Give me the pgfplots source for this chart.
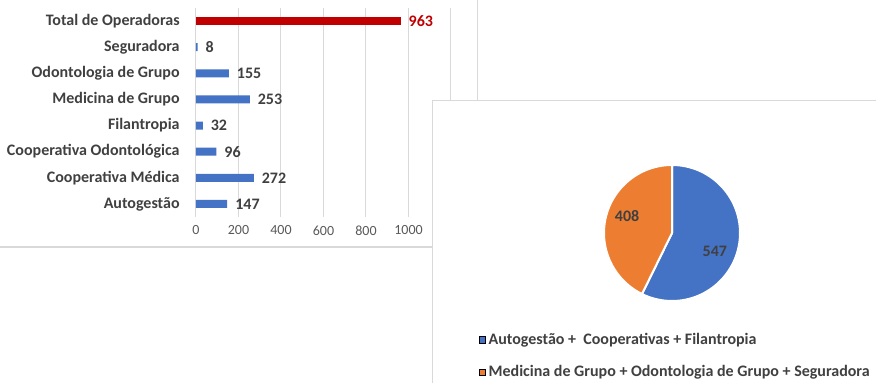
\documentclass[border=0pt]{standalone}
\usepackage{fontspec}
\setmainfont{Carlito}
\usepackage{pgfplots}
\pgfplotsset{compat=1.18}
\definecolor{cblue}{HTML}{4472C4}
\definecolor{corange}{HTML}{ED7D31}
\definecolor{cred}{HTML}{C00000}
\definecolor{labgray}{HTML}{404040}
\definecolor{catgray}{HTML}{595959}
\definecolor{gridgray}{HTML}{D9D9D9}
\begin{document}
\begin{tikzpicture}
\path[use as bounding box] (0pt,0pt) rectangle (657pt,287.25pt);
% frame lines of the bar chart area
\draw[gridgray, line width=0.9pt] (0pt,102pt) -- (324pt,102pt);
\draw[gridgray, line width=0.75pt] (357.75pt,287.25pt) -- (357.75pt,211.5pt);
\begin{axis}[
  at={(147pt,124.5pt)}, anchor=south west,
  scale only axis, width=191.25pt, height=156.75pt,
  xbar, bar width=6pt, bar shift=0pt,
  xmin=0, xmax=1200, ymin=-0.5, ymax=7.5,
  xtick={0,200,...,1200},
  ytick={0,...,7},
  yticklabels={Autogestão, Cooperativa Médica, Cooperativa Odontológica, Filantropia, Medicina de Grupo, Odontologia de Grupo, Seguradora, Total de Operadoras},
  xmajorgrids, major grid style={gridgray, line width=0.75pt},
  axis line style={draw=none}, tick style={draw=none},
  /pgf/number format/assume math mode=true,
  /pgf/number format/1000 sep={},
  xticklabel style={font=\fontsize{10.5}{12}\selectfont, text=catgray, yshift=-3pt},
  yticklabel style={font=\fontsize{12}{14}\selectfont\bfseries, text=labgray, xshift=-4.5pt},
  nodes near coords,
  every node near coord/.append style={font=\fontsize{12}{14}\selectfont\bfseries, text=labgray, xshift=2.5pt},
]
\addplot[fill=cblue, draw=none] coordinates {(147,0) (272,1) (96,2) (32,3) (253,4) (155,5) (8,6)};
\addplot[fill=cred, draw=none, every node near coord/.append style={text=cred}] coordinates {(963,7)};
\end{axis}
% pie chart panel
\fill[white] (324pt,0pt) rectangle (657pt,211.5pt);
\draw[gridgray, line width=0.75pt] (324pt,0pt) -- (324pt,211.5pt) -- (657pt,211.5pt);
\begin{axis}[
  at={(453pt,61.5pt)}, anchor=south west,
  scale only axis, width=102pt, height=102pt,
  xmin=-1, xmax=1, ymin=-1, ymax=1,
  hide axis,
  legend style={at={(-0.95,-0.195)}, anchor=north west, draw=none, fill=none,
    font=\fontsize{12}{14}\selectfont\bfseries, text=labgray,
    /tikz/every even column/.append style={column sep=2pt},
    row sep=10.5pt},
  legend cell align=left,
  legend image code/.code={\fill[#1] (0pt,-2.4pt) rectangle (4.8pt,2.4pt);},
]
\pgfmathsetmacro\angA{547/(547+408)*360}
\pgfmathsetmacro\angB{408/(547+408)*360}
\fill[cblue, draw=white, line width=1.5pt] (axis cs:0,0) -- (axis cs:0,1) arc[start angle=90, delta angle=-\angA, radius=1] -- cycle;
\fill[corange, draw=white, line width=1.5pt] (axis cs:0,0) -- (axis cs:0,1) arc[start angle=90, delta angle=\angB, radius=1] -- cycle;
\node[text=labgray, font=\fontsize{12}{14}\selectfont\bfseries] at (axis cs:0.63,-0.27) {547};
\node[text=labgray, font=\fontsize{12}{14}\selectfont\bfseries] at (axis cs:-0.66,0.25) {408};
\addlegendimage{fill=cblue}
\addlegendentry{Autogestão +\ \ Cooperativas + Filantropia}
\addlegendimage{fill=corange}
\addlegendentry{Medicina de Grupo + Odontologia de Grupo + Seguradora}
\end{axis}
\end{tikzpicture}
\end{document}
